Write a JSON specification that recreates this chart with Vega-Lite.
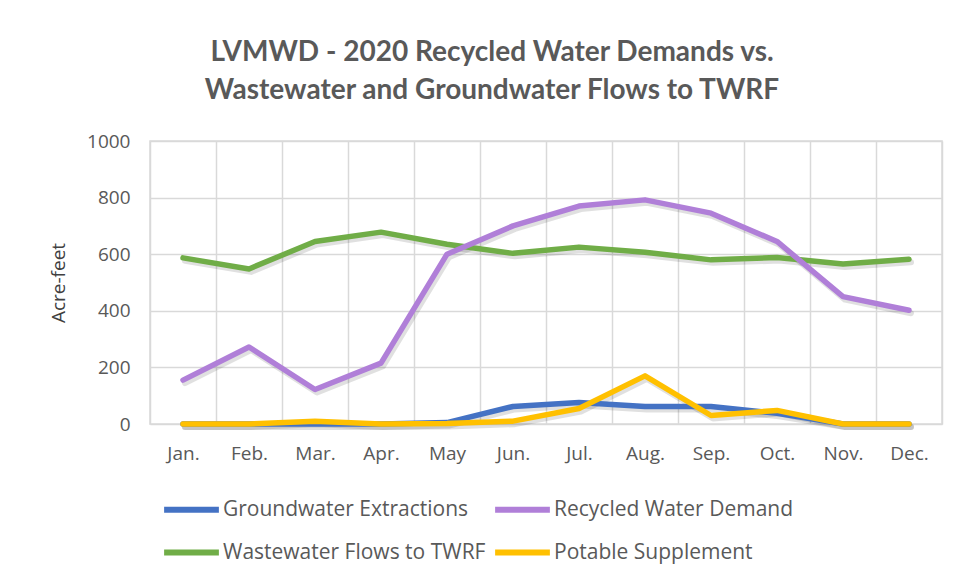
{
  "$schema": "https://vega.github.io/schema/vega-lite/v6.json",
  "width": 792,
  "height": 283,
  "autosize": "none",
  "padding": {"left": 150, "top": 141, "right": 14, "bottom": 160},
  "background": "white",
  "title": {
    "text": ["LVMWD - 2020  Recycled Water Demands vs.", "Wastewater and Groundwater Flows to TWRF"],
    "font": "Lato",
    "fontSize": 28,
    "fontWeight": "bold",
    "color": "#595959",
    "lineHeight": 38,
    "anchor": "middle",
    "dx": -54,
    "offset": 27
  },
  "data": {
    "values": [
      {"month": "Jan.", "series": "Groundwater Extractions", "value": 0},
      {"month": "Feb.", "series": "Groundwater Extractions", "value": 0},
      {"month": "Mar.", "series": "Groundwater Extractions", "value": 0},
      {"month": "Apr.", "series": "Groundwater Extractions", "value": 0},
      {"month": "May", "series": "Groundwater Extractions", "value": 5},
      {"month": "Jun.", "series": "Groundwater Extractions", "value": 62},
      {"month": "Jul.", "series": "Groundwater Extractions", "value": 76},
      {"month": "Aug.", "series": "Groundwater Extractions", "value": 62},
      {"month": "Sep.", "series": "Groundwater Extractions", "value": 62},
      {"month": "Oct.", "series": "Groundwater Extractions", "value": 38},
      {"month": "Nov.", "series": "Groundwater Extractions", "value": 0},
      {"month": "Dec.", "series": "Groundwater Extractions", "value": 0},
      {"month": "Jan.", "series": "Recycled Water Demand", "value": 155},
      {"month": "Feb.", "series": "Recycled Water Demand", "value": 272},
      {"month": "Mar.", "series": "Recycled Water Demand", "value": 122},
      {"month": "Apr.", "series": "Recycled Water Demand", "value": 215},
      {"month": "May", "series": "Recycled Water Demand", "value": 600},
      {"month": "Jun.", "series": "Recycled Water Demand", "value": 700},
      {"month": "Jul.", "series": "Recycled Water Demand", "value": 770},
      {"month": "Aug.", "series": "Recycled Water Demand", "value": 792},
      {"month": "Sep.", "series": "Recycled Water Demand", "value": 745},
      {"month": "Oct.", "series": "Recycled Water Demand", "value": 645},
      {"month": "Nov.", "series": "Recycled Water Demand", "value": 450},
      {"month": "Dec.", "series": "Recycled Water Demand", "value": 402},
      {"month": "Jan.", "series": "Wastewater Flows to TWRF", "value": 587},
      {"month": "Feb.", "series": "Wastewater Flows to TWRF", "value": 548},
      {"month": "Mar.", "series": "Wastewater Flows to TWRF", "value": 645},
      {"month": "Apr.", "series": "Wastewater Flows to TWRF", "value": 678},
      {"month": "May", "series": "Wastewater Flows to TWRF", "value": 635},
      {"month": "Jun.", "series": "Wastewater Flows to TWRF", "value": 603},
      {"month": "Jul.", "series": "Wastewater Flows to TWRF", "value": 625},
      {"month": "Aug.", "series": "Wastewater Flows to TWRF", "value": 607},
      {"month": "Sep.", "series": "Wastewater Flows to TWRF", "value": 580},
      {"month": "Oct.", "series": "Wastewater Flows to TWRF", "value": 588},
      {"month": "Nov.", "series": "Wastewater Flows to TWRF", "value": 565},
      {"month": "Dec.", "series": "Wastewater Flows to TWRF", "value": 582},
      {"month": "Jan.", "series": "Potable Supplement", "value": 0},
      {"month": "Feb.", "series": "Potable Supplement", "value": 0},
      {"month": "Mar.", "series": "Potable Supplement", "value": 10},
      {"month": "Apr.", "series": "Potable Supplement", "value": 0},
      {"month": "May", "series": "Potable Supplement", "value": 2},
      {"month": "Jun.", "series": "Potable Supplement", "value": 10},
      {"month": "Jul.", "series": "Potable Supplement", "value": 55},
      {"month": "Aug.", "series": "Potable Supplement", "value": 170},
      {"month": "Sep.", "series": "Potable Supplement", "value": 30},
      {"month": "Oct.", "series": "Potable Supplement", "value": 48},
      {"month": "Nov.", "series": "Potable Supplement", "value": 0},
      {"month": "Dec.", "series": "Potable Supplement", "value": 0}
    ]
  },
  "encoding": {
    "x": {
      "field": "month",
      "type": "nominal",
      "sort": ["Jan.", "Feb.", "Mar.", "Apr.", "May", "Jun.", "Jul.", "Aug.", "Sep.", "Oct.", "Nov.", "Dec."],
      "scale": {"type": "band", "paddingInner": 0, "paddingOuter": 0},
      "bandPosition": 0.5,
      "axis": {
        "title": null,
        "labelAngle": 0,
        "tickBand": "extent",
        "grid": true,
        "gridColor": "#D9D9D9",
        "gridWidth": 1.5,
        "ticks": false,
        "domain": false,
        "labelFont": "Open Sans",
        "labelFontSize": 19,
        "labelColor": "#595959",
        "labelPadding": 20
      }
    },
    "y": {
      "field": "value",
      "type": "quantitative",
      "scale": {"domain": [0, 1000]},
      "axis": {
        "title": "Acre-feet",
        "titleFont": "Open Sans",
        "titleFontSize": 19,
        "titleFontWeight": "normal",
        "titleColor": "#404040",
        "titlePadding": 18,
        "values": [0, 200, 400, 600, 800, 1000],
        "format": "d",
        "grid": true,
        "gridColor": "#D9D9D9",
        "gridWidth": 1.5,
        "ticks": false,
        "domain": false,
        "labelFont": "Open Sans",
        "labelFontSize": 19,
        "labelColor": "#595959",
        "labelPadding": 20
      }
    },
    "color": {
      "field": "series",
      "type": "nominal",
      "scale": {
        "domain": ["Groundwater Extractions", "Recycled Water Demand", "Wastewater Flows to TWRF", "Potable Supplement"],
        "range": ["#4472C4", "#B07FD8", "#70AD47", "#FFC000"]
      },
      "legend": {
        "title": null,
        "orient": "none",
        "legendX": 11,
        "legendY": 338,
        "columns": 2,
        "direction": "horizontal",
        "symbolType": "stroke",
        "symbolSize": 3000,
        "symbolStrokeWidth": 6,
        "labelFont": "Open Sans",
        "labelFontSize": 21,
        "labelColor": "#595959",
        "labelOffset": 1,
        "labelLimit": 400,
        "columnPadding": -3,
        "rowPadding": -11
      }
    }
  },
  "layer": [
    {
      "mark": {"type": "line", "strokeWidth": 6, "strokeCap": "round", "strokeJoin": "round", "xOffset": 2, "yOffset": 3, "opacity": 0.12},
      "encoding": {"color": {"value": "#000000"}, "detail": {"field": "series"}}
    },
    {
      "transform": [{"filter": {"field": "series", "oneOf": ["Groundwater Extractions", "Wastewater Flows to TWRF"]}}],
      "mark": {"type": "line", "strokeWidth": 5.5, "strokeCap": "round", "strokeJoin": "round"}
    },
    {
      "transform": [{"filter": {"field": "series", "oneOf": ["Potable Supplement", "Recycled Water Demand"]}}],
      "mark": {"type": "line", "strokeWidth": 5.5, "strokeCap": "round", "strokeJoin": "round"}
    }
  ],
  "config": {"view": {"stroke": "#D9D9D9", "strokeWidth": 1.5}}
}
